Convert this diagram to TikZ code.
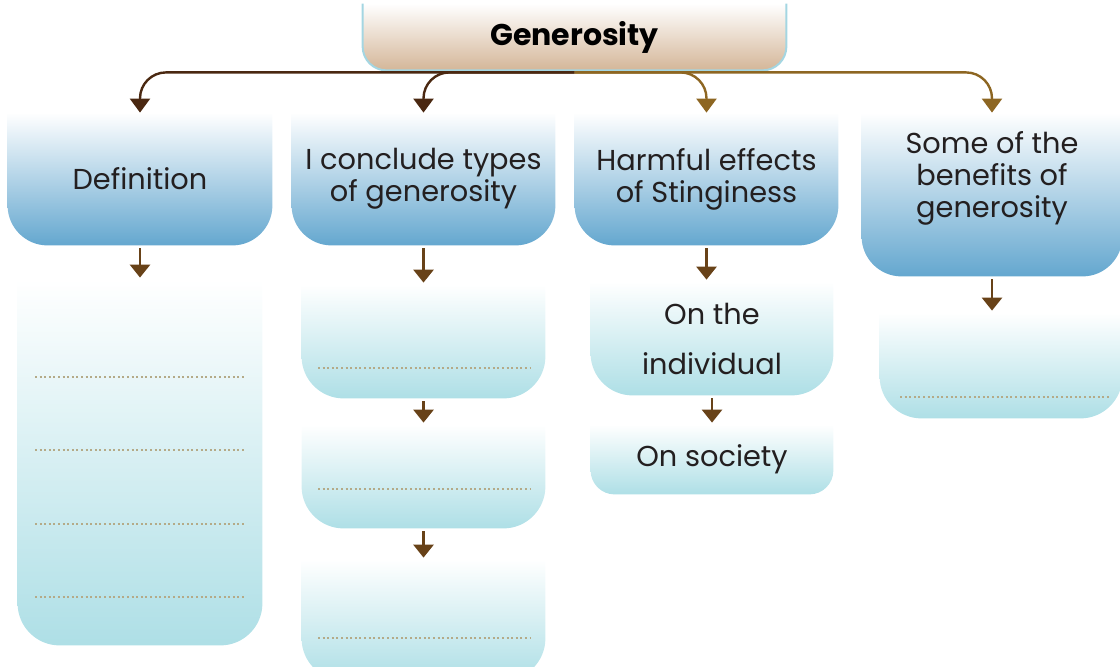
\documentclass[tikz,border=0pt]{standalone}
\usepackage{fontspec}
\setmainfont{Poppins}
\usetikzlibrary{arrows.meta, positioning, backgrounds}

\definecolor{boxblue}{RGB}{100,167,207}
\definecolor{boxcyan}{RGB}{174,223,230}
\definecolor{titletan}{RGB}{212,182,152}
\definecolor{titleedge}{RGB}{164,214,226}
\definecolor{darkbrown}{RGB}{74,40,17}
\definecolor{goldbrown}{RGB}{141,102,34}
\definecolor{midbrown}{RGB}{104,66,24}
\definecolor{rulegray}{RGB}{180,170,136}
\definecolor{inktext}{RGB}{35,31,32}

% shaded panel under a node, rounded at the bottom only
\newcommand{\lowpanel}[3]{%
  \begin{pgfonlayer}{background}
    \shade[top color=white, bottom color=#2]
      (#1.north west) -- ([yshift=#3]#1.south west)
      arc[start angle=180, end angle=270, radius=#3]
      -- ([xshift=-#3]#1.south east)
      arc[start angle=270, end angle=360, radius=#3]
      -- (#1.north east) -- cycle;
  \end{pgfonlayer}}

\tikzset{
  panel/.style={rectangle, inner sep=0pt, text=inktext, align=center,
    font=\fontsize{14.4}{16}\selectfont},
  link/.style={line width=1.2pt, rounded corners=13pt,
    -{Triangle[width=10pt, length=7pt]}},
  drop/.style={line width=1.4pt, midbrown, shorten <=1.5pt, shorten >=1pt,
    -{Triangle[width=10pt, length=6.5pt]}},
  rule/.style={rulegray, line width=0.7pt, dash pattern=on 1pt off 1.3pt}
}

\begin{document}
\begin{tikzpicture}[x=0.5pt, y=-0.5pt]
    \useasboundingbox (0,0) rectangle (1120,666);

    % Title
    \node[panel, minimum width=211.5pt, minimum height=33pt,
          font=\bfseries\fontsize{15}{16}\selectfont, text=black] (title) at (574.5,37) {Generosity};

    % Headings
    \node[panel, minimum width=132pt, minimum height=66pt] (def) at (140,179) {Definition};
    \node[panel, minimum width=131.5pt, minimum height=66pt] (types) at (423.5,179) {I conclude types\\of generosity};
    \node[panel, minimum width=131.5pt, minimum height=66pt] (harm) at (706.5,179) {Harmful effects\\of Stinginess};
    \node[panel, minimum width=130pt, minimum height=81.5pt] (bene) at (992,194.5) {Some of the\\benefits of\\generosity\\\phantom{g}};

    % Answer boxes
    \node[panel, minimum width=122pt, minimum height=182.5pt] (defList) at (140,462.5) {};
    \node[panel, minimum width=121.5pt, minimum height=56.5pt] (typeA) at (423.5,341.5) {};
    \node[panel, minimum width=121.5pt, minimum height=51.5pt] (typeB) at (423.5,476.5) {};
    \node[panel, minimum width=121.5pt, minimum height=60pt] (typeC) at (423.5,620) {};
    \node[panel, minimum width=121pt, minimum height=56.5pt] (indiv) at (712,338.5) {On the\\[9pt]individual};
    \node[panel, minimum width=121pt, minimum height=34.5pt] (soc) at (712,459.5) {On society};
    \node[panel, minimum width=121pt, minimum height=52.5pt] (beneList) at (1001,365.5) {};

    % Panels
    \lowpanel{title}{titletan}{12pt}
    \foreach \n in {def, types, harm, bene}
        \lowpanel{\n}{boxblue}{20pt};
    \foreach \n in {defList, typeA, typeB, typeC, indiv, beneList}
        \lowpanel{\n}{boxcyan}{21pt};
    \lowpanel{soc}{boxcyan}{12pt}
    \draw[titleedge, line width=1pt] (title.north west) -- ([yshift=12pt]title.south west)
        arc[start angle=180, end angle=270, radius=12pt]
        -- ([xshift=-12pt]title.south east)
        arc[start angle=270, end angle=360, radius=12pt] -- (title.north east);

    % Branches from the title
    \coordinate (hub) at ([yshift=-1pt]title.south);
    \draw[link, darkbrown] (hub) -| (def.north);
    \draw[link, darkbrown] (hub) -| (types.north);
    \draw[link, goldbrown] (hub) -| (harm.north);
    \draw[link, goldbrown] (hub) -| (bene.north);

    % Downward steps
    \draw[drop] (def) -- (defList);
    \draw[drop] (types) -- (typeA);
    \draw[drop] (typeA) -- (typeB);
    \draw[drop] (typeB) -- (typeC);
    \draw[drop] (harm.south) -- (indiv.north -| harm.south);
    \draw[drop] (indiv) -- (soc);
    \draw[drop] (bene) -- (beneList.north -| bene.south);

    % Writing lines
    \foreach \yy in {377,450,524,597}
        \draw[rule] (35,\yy) -- (245,\yy);
    \foreach \yy in {368,489,638}
        \draw[rule] (318,\yy) -- (530,\yy);
    \draw[rule] (900,397) -- (1110,397);
\end{tikzpicture}
\end{document}
